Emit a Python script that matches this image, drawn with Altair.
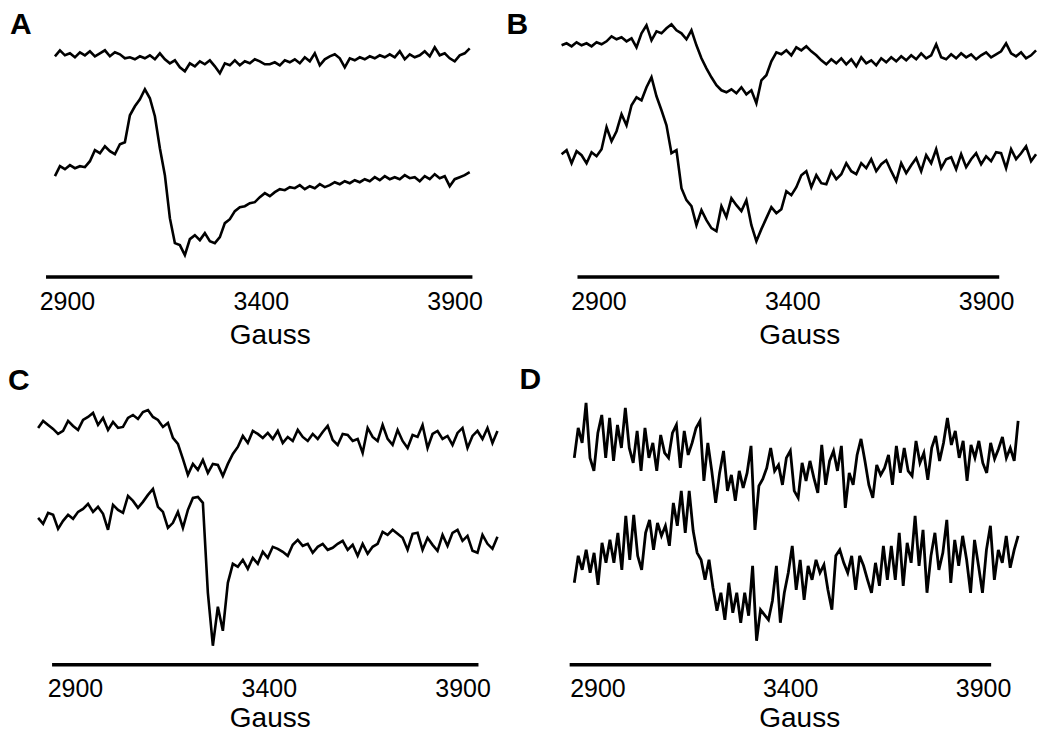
import altair as alt
import numpy as np
import pandas as pd

FONT = "Liberation Sans"
TICKS = [2900, 3400, 3900]

# ---------------- Panel A (signal readings, larger = lower on the page) ----------------
A_FIELD = (2869, 3939)
A_RULE = (2846, 3946, 274)
A_UPPER = [53, 47, 52, 50, 54, 49, 52, 48, 53, 50, 47, 53, 49, 51, 55, 54, 56, 53, 55, 52,
           56, 50, 56, 60, 57, 64, 68, 60, 63, 58, 61, 57, 63, 70, 60, 62, 57, 62, 58, 60,
           56, 58, 61, 61, 59, 62, 57, 59, 56, 60, 54, 58, 50, 62, 56, 53, 51, 55, 64, 55,
           57, 54, 56, 53, 55, 52, 54, 51, 54, 48, 56, 51, 54, 52, 48, 53, 44, 52, 50, 55,
           58, 52, 50, 45]
A_LOWER = [173, 163, 166, 162, 165, 163, 164, 158, 147, 150, 143, 148, 151, 141, 139, 112,
           103, 96, 86, 95, 113, 145, 172, 215, 240, 242, 252, 236, 232, 237, 230, 238, 240,
           234, 220, 216, 208, 204, 203, 200, 199, 194, 190, 193, 189, 186, 187, 184, 185,
           182, 186, 183, 185, 181, 184, 182, 179, 181, 178, 180, 177, 179, 176, 178, 174,
           177, 173, 176, 174, 176, 172, 175, 174, 178, 173, 176, 171, 175, 173, 183, 176,
           174, 172, 169]

# ---------------- Panel B ----------------
B_FIELD = (2805, 4029)
B_RULE = (2846, 3934, 274)
B_UPPER = [42, 40, 43, 39, 42, 40, 43, 39, 41, 38, 33, 36, 34, 38, 35, 44, 30, 22, 37, 28,
           30, 25, 21, 27, 30, 36, 27, 42, 55, 65, 74, 82, 87, 89, 86, 90, 84, 91, 87, 100,
           77, 72, 58, 49, 51, 47, 52, 44, 47, 43, 48, 52, 57, 61, 56, 60, 55, 61, 56, 63,
           54, 60, 57, 62, 55, 59, 54, 58, 53, 57, 52, 56, 50, 55, 52, 41, 54, 56, 51, 55,
           50, 54, 51, 56, 52, 49, 54, 51, 48, 40, 50, 53, 49, 55, 52, 47]
B_LOWER = [151, 147, 160, 148, 152, 160, 149, 153, 146, 124, 138, 128, 111, 122, 102, 94,
           97, 84, 74, 93, 107, 122, 150, 147, 185, 197, 203, 222, 207, 217, 225, 228, 203,
           214, 195, 202, 208, 197, 222, 238, 226, 215, 204, 210, 206, 188, 192, 184, 172,
           168, 184, 172, 180, 181, 168, 176, 171, 160, 168, 171, 160, 165, 156, 168, 161,
           157, 168, 178, 160, 170, 162, 155, 168, 152, 160, 146, 165, 156, 154, 166, 151,
           164, 156, 150, 161, 153, 158, 149, 150, 165, 146, 156, 150, 143, 158, 151]

# ---------------- Panel C ----------------
C_FIELD = (2805, 3990)
C_RULE = (2841, 3941, 662)
C_UPPER = [425, 418, 422, 426, 431, 428, 418, 423, 427, 417, 414, 410, 422, 415, 427, 419,
           425, 424, 415, 412, 416, 409, 407, 414, 417, 424, 420, 435, 441, 456, 472, 461,
           467, 457, 470, 461, 462, 473, 461, 451, 444, 433, 440, 428, 431, 435, 430, 436,
           428, 440, 434, 438, 427, 434, 438, 431, 436, 429, 423, 437, 442, 431, 432, 438,
           436, 450, 425, 434, 438, 422, 436, 442, 427, 438, 445, 432, 434, 422, 445, 431,
           428, 436, 433, 442, 430, 425, 445, 433, 428, 436, 425, 440, 428]
C_LOWER = [515, 521, 510, 512, 526, 518, 512, 516, 509, 506, 501, 509, 504, 511, 527, 502,
           507, 510, 493, 498, 505, 499, 492, 486, 504, 509, 525, 520, 509, 525, 507, 495,
           494, 500, 590, 643, 604, 628, 580, 561, 564, 557, 566, 555, 561, 549, 555, 544,
           546, 549, 553, 542, 537, 543, 541, 550, 544, 541, 547, 545, 541, 538, 547, 542,
           553, 541, 551, 544, 541, 529, 532, 527, 531, 535, 547, 531, 530, 547, 535, 542,
           548, 532, 543, 530, 527, 538, 533, 548, 550, 532, 541, 546, 534]

# ---------------- Panel D ----------------
D_FIELD = (2840, 3991)
D_RULE = (2828, 3921, 662)
D_UPPER = [455, 425, 440, 400, 455, 468, 430, 412, 455, 415, 458, 422, 445, 405, 445, 460,
           428, 468, 425, 455, 440, 468, 432, 450, 455, 430, 422, 465, 428, 452, 440, 425,
           418, 478, 440, 468, 500, 470, 448, 488, 472, 498, 468, 485, 470, 443, 527, 483,
           476, 465, 445, 468, 462, 482, 455, 448, 488, 495, 460, 478, 458, 475, 490, 442,
           482, 458, 448, 468, 443, 505, 470, 482, 452, 436, 458, 482, 495, 462, 472, 465,
           452, 482, 443, 470, 445, 468, 473, 438, 460, 450, 477, 445, 433, 458, 440, 415,
           442, 428, 455, 438, 478, 442, 455, 438, 460, 470, 440, 456, 446, 434, 455, 445,
           458, 418]
D_LOWER = [580, 553, 567, 547, 570, 550, 582, 540, 560, 537, 560, 530, 567, 513, 557, 512,
           553, 567, 530, 517, 547, 520, 533, 523, 543, 500, 523, 488, 530, 488, 528, 550,
           557, 577, 557, 585, 608, 590, 617, 580, 610, 590, 620, 590, 613, 563, 638, 607,
           612, 617, 598, 563, 620, 590, 570, 543, 587, 557, 597, 563, 577, 557, 570, 562,
           587, 607, 553, 547, 560, 570, 553, 587, 553, 563, 577, 590, 560, 583, 543, 577,
           543, 577, 530, 583, 540, 560, 513, 563, 527, 590, 553, 530, 567, 550, 517, 580,
           537, 563, 533, 557, 590, 537, 563, 590, 547, 523, 577, 547, 560, 533, 565, 547,
           533]


def traces(upper, lower, field):
    frames = []
    for name, vals in (("upper", upper), ("lower", lower)):
        g = np.linspace(field[0], field[1], len(vals))
        frames.append(pd.DataFrame({"gauss": g, "signal": vals, "trace": name}))
    return pd.concat(frames, ignore_index=True)


def panel(letter, upper, lower, field, rule, x_domain, y_domain, height, dx, offset, lw, tpad):
    df = traces(upper, lower, field)
    rule_df = pd.DataFrame({"gauss": [rule[0]], "gauss_end": [rule[1]], "signal": [rule[2]]})
    x_axis = alt.Axis(values=TICKS, format="d", title="Gauss", domain=False, ticks=False,
                      grid=False, labelFontSize=25, labelFont=FONT, labelColor="black",
                      labelPadding=12, titleFontSize=28, titleFont=FONT,
                      titleFontWeight="normal", titleColor="black", titlePadding=tpad)
    xs = alt.Scale(domain=list(x_domain), nice=False, zero=False)
    ys = alt.Scale(domain=list(y_domain), reverse=True, nice=False, zero=False)
    lines = alt.Chart(df).mark_line(color="black", strokeWidth=lw).encode(
        x=alt.X("gauss:Q", scale=xs, axis=x_axis),
        y=alt.Y("signal:Q", scale=ys, axis=None),
        detail="trace:N",
    )
    base = alt.Chart(rule_df).mark_rule(color="black", strokeWidth=3.5).encode(
        x=alt.X("gauss:Q", scale=xs, axis=x_axis),
        x2="gauss_end:Q",
        y=alt.Y("signal:Q", scale=ys, axis=None),
    )
    return alt.layer(lines, base).properties(
        width=480,
        height=height,
        title=alt.TitleParams(letter, anchor="start", fontSize=30, fontWeight="bold",
                              font=FONT, color="black", dx=dx, offset=offset),
    )


pA = panel("A", A_UPPER, A_LOWER, A_FIELD, A_RULE, (2804.6, 4041.7), (15, 274), 259, -20, -22, 2.6, 7)
pB = panel("B", B_UPPER, B_LOWER, B_FIELD, B_RULE, (2799.5, 4036.6), (15, 274), 259, -50, -22, 2.6, 7)
pC = panel("C", C_UPPER, C_LOWER, C_FIELD, C_RULE, (2784.0, 4021.1), (395, 662), 267, -22, 2, 2.6, 3)
pD = panel("D", D_UPPER, D_LOWER, D_FIELD, D_RULE, (2801.6, 4045.1), (395, 662), 267, -40, 2, 2.8, 3)

chart = alt.concat(
    pA, pB, pC, pD,
    columns=2,
    spacing=alt.RowColnumber(row=121, column=50),
    bounds="flush",
    align="each",
).properties(
    padding={"left": 0, "top": 2, "right": 0, "bottom": 0},
    background="white",
).configure_view(strokeWidth=0)

chart.save("out.html", embed_options={"renderer": "svg", "actions": False})
